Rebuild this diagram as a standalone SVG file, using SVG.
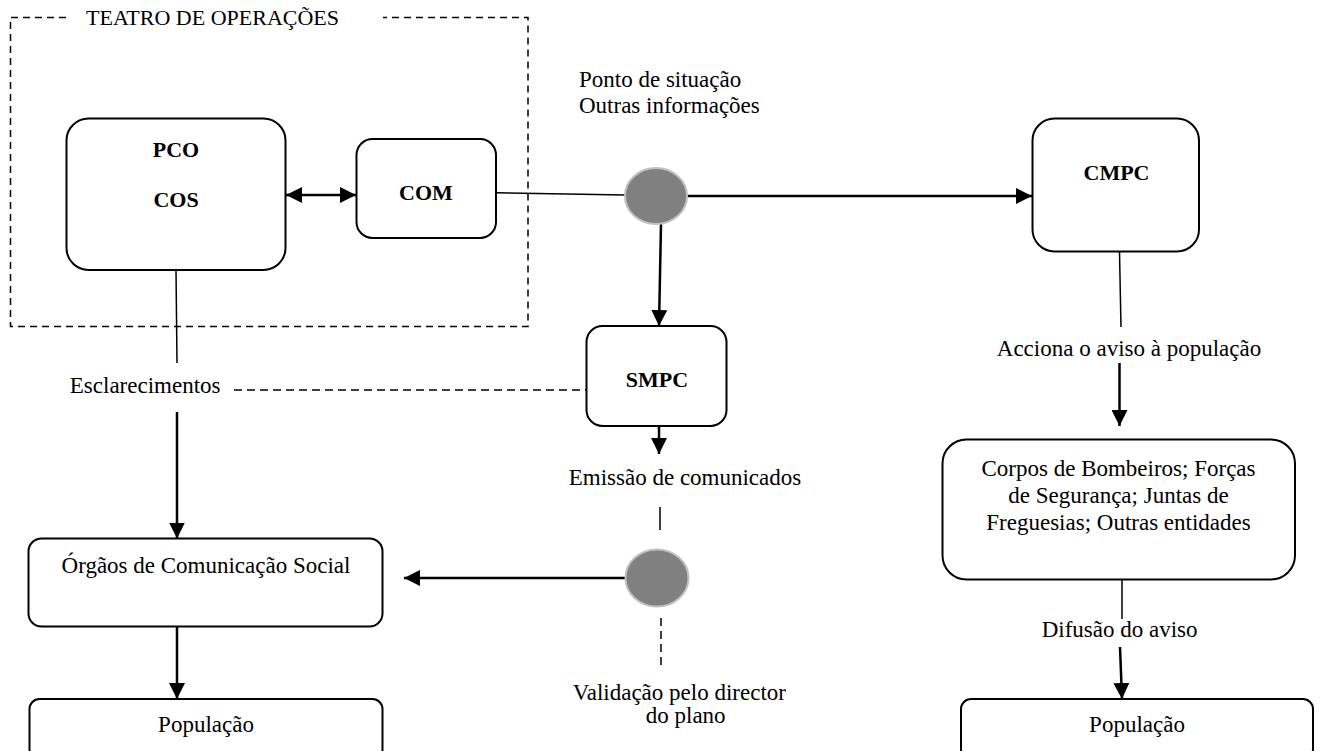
<svg xmlns="http://www.w3.org/2000/svg" width="1320" height="751" viewBox="0 0 1320 751">
<defs>
<style>
.box{fill:#fff;stroke:#000;stroke-width:2}
.t{font-family:"Liberation Serif","Times New Roman",serif;font-size:23px;fill:#000}
.tc{text-anchor:middle}
.b{font-weight:bold;font-size:22px}
.ln{fill:none;stroke:#000;stroke-width:2}
.thin{fill:none;stroke:#000;stroke-width:1.5}
.dash{fill:none;stroke:#000;stroke-width:1.5;stroke-dasharray:7 5}
.dot{fill:#808080;stroke:#c0c0c0;stroke-width:2}
</style>
<marker id="ah" viewBox="0 0 16 16" refX="16" refY="8" markerWidth="16" markerHeight="16" markerUnits="userSpaceOnUse" orient="auto-start-reverse">
<path d="M0,0 L16,8 L0,16 Z" fill="#000"/>
</marker>
</defs>
<rect width="1320" height="751" fill="#fff"/>

<g id="teatro">
<path class="dash" d="M66,17.5 H10.5 V326.5 H528 V17.5 H383"/>
<text class="t" x="86" y="25" style="font-size:22px">TEATRO DE OPERAÇÕES</text>
</g>

<g id="connectors">
<line class="ln" x1="286" y1="195" x2="356" y2="195" marker-start="url(#ah)" marker-end="url(#ah)" style="stroke-width:2.5"/>
<line class="thin" x1="496" y1="192.7" x2="625" y2="195"/>
<line class="ln" x1="687" y1="196" x2="1032" y2="196" marker-end="url(#ah)" style="stroke-width:2.5"/>
<line class="ln" x1="661" y1="224" x2="659" y2="326" marker-end="url(#ah)" style="stroke-width:2.5"/>
<line class="thin" x1="176" y1="270" x2="177" y2="363"/>
<line class="dash" x1="234" y1="390" x2="587" y2="390" style="stroke-dasharray:8 5"/>
<line class="ln" x1="177" y1="412" x2="177" y2="538.5" marker-end="url(#ah)" style="stroke-width:2.5"/>
<line class="ln" x1="659" y1="426" x2="659" y2="454" marker-end="url(#ah)" style="stroke-width:2.5"/>
<line class="thin" x1="660" y1="507" x2="660" y2="530"/>
<line class="ln" x1="625.5" y1="578" x2="404" y2="578" marker-end="url(#ah)" style="stroke-width:2.5"/>
<line class="dash" x1="661" y1="618" x2="661" y2="667" style="stroke-dasharray:8 5"/>
<line class="ln" x1="177" y1="627" x2="177" y2="699" marker-end="url(#ah)" style="stroke-width:2.5"/>
<line class="thin" x1="1119.5" y1="252" x2="1121" y2="327"/>
<line class="ln" x1="1119.5" y1="363" x2="1119.5" y2="426" marker-end="url(#ah)" style="stroke-width:2.5"/>
<line class="thin" x1="1122" y1="579.5" x2="1122" y2="619"/>
<line class="ln" x1="1120" y1="647" x2="1122" y2="699" marker-end="url(#ah)" style="stroke-width:2.5"/>
</g>

<g id="pco">
<rect class="box" x="66.5" y="118.5" width="219" height="151.5" rx="22"/>
<text class="t tc b" x="176" y="157">PCO</text>
<text class="t tc b" x="176" y="207">COS</text>
</g>

<g id="com">
<rect class="box" x="356.5" y="139" width="139.5" height="99" rx="16"/>
<text class="t tc b" x="426" y="199.5">COM</text>
</g>

<g id="info">
<text class="t" x="579" y="86.5">Ponto de situação</text>
<text class="t" x="579" y="113.3">Outras informações</text>
</g>

<g id="node1">
<ellipse class="dot" cx="656" cy="196" rx="31" ry="28"/>
</g>

<g id="cmpc">
<rect class="box" x="1032.5" y="118.5" width="166.5" height="133" rx="22"/>
<text class="t tc b" x="1116.5" y="180">CMPC</text>
</g>

<g id="smpc">
<rect class="box" x="586.5" y="326" width="140" height="100" rx="16"/>
<text class="t tc b" x="657" y="387.3">SMPC</text>
</g>

<g id="esclarecimentos">
<text class="t" x="69.8" y="392.7">Esclarecimentos</text>
</g>

<g id="emissao">
<text class="t tc" x="685" y="485">Emissão de comunicados</text>
</g>

<g id="node2">
<ellipse class="dot" cx="657" cy="578" rx="31.5" ry="28.5"/>
</g>

<g id="validacao">
<text class="t tc" x="679.3" y="700">Validação pelo director</text>
<text class="t tc" x="685.7" y="723.3">do plano</text>
</g>

<g id="ocs">
<rect class="box" x="28.5" y="538.5" width="354" height="88" rx="13"/>
<text class="t tc" x="206" y="573.3">Órgãos de Comunicação Social</text>
</g>

<g id="populacao1">
<rect class="box" x="29.5" y="699" width="353" height="60" rx="10"/>
<text class="t tc" x="206" y="731.7">População</text>
</g>

<g id="acciona">
<text class="t tc" x="1129" y="356">Acciona o aviso à população</text>
</g>

<g id="entidades">
<rect class="box" x="942.5" y="439.5" width="352.5" height="140" rx="24"/>
<text class="t tc" x="1118.5" y="476">Corpos de Bombeiros; Forças</text>
<text class="t tc" x="1118.5" y="502.7">de Segurança; Juntas de</text>
<text class="t tc" x="1118.5" y="530">Freguesias; Outras entidades</text>
</g>

<g id="difusao">
<text class="t tc" x="1119.6" y="637.3">Difusão do aviso</text>
</g>

<g id="populacao2">
<rect class="box" x="961" y="699" width="352" height="60" rx="10"/>
<text class="t tc" x="1137" y="731.7">População</text>
</g>
</svg>
